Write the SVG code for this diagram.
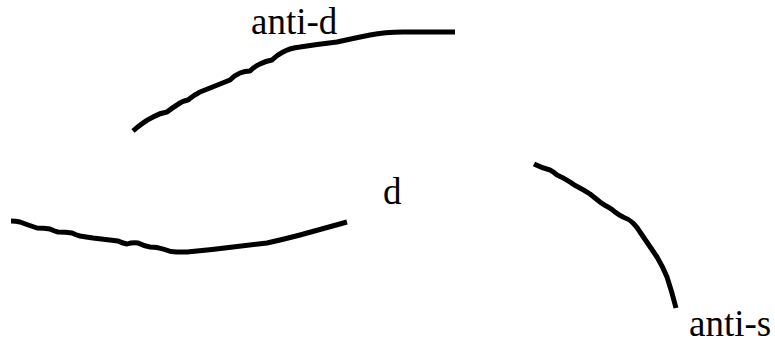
<svg xmlns="http://www.w3.org/2000/svg" width="775" height="343" viewBox="0 0 775 343">
<style>
.q{fill:none;stroke:#000;stroke-width:5;stroke-linejoin:round}
.t{font-family:"Liberation Serif","Times New Roman",serif;font-size:37px;fill:#000}
</style>
<rect width="775" height="343" fill="#fff"/>
<g id="connectors">
<path class="q" d="M133,131 Q143,122 153,117 Q160,113 167,112 Q172,108 177,105 Q182,101 188,100 Q194,95 200,92 L230,80 Q235,75 240,73 Q245,71 250,71 Q255,66 260,64 Q266,61 272,60 Q277,55 283,52 Q290,48 300,47 Q320,44 337,42 Q355,38 370,35 Q385,32 403,32 L455,32"/>
<path class="q" d="M11,221 Q16,221 20,222 Q28,225 37,228 Q44,228 50,229 Q54,231 58,232 Q66,232 72,233 Q76,235 80,236 Q86,237 93,238 L118,241 Q122,243 127,244 Q133,242 138,243 Q144,246 150,247 Q157,247 163,249 Q170,252 177,252 Q182,252 187,252 Q210,250 233,247 Q250,245 267,243 Q285,239 300,235 Q325,228 347,222"/>
<path class="q" d="M534,164 Q542,168 550,170 Q554,172 557,175 Q564,178 570,182 Q574,185 578,187 Q584,190 590,194 Q595,198 600,202 Q604,205 608,207 Q612,209 615,212 Q619,215 623,217 Q629,219 633,223 Q637,227 640,232 L657,257 Q663,267 667,277 Q672,292 676,308"/>
</g>
<g id="label-anti-d"><text class="t" x="251" y="34">anti-d</text></g>
<g id="label-d"><text class="t" x="383" y="204">d</text></g>
<g id="label-anti-s"><text class="t" x="689" y="336" font-size="36">anti-s</text></g>
</svg>
